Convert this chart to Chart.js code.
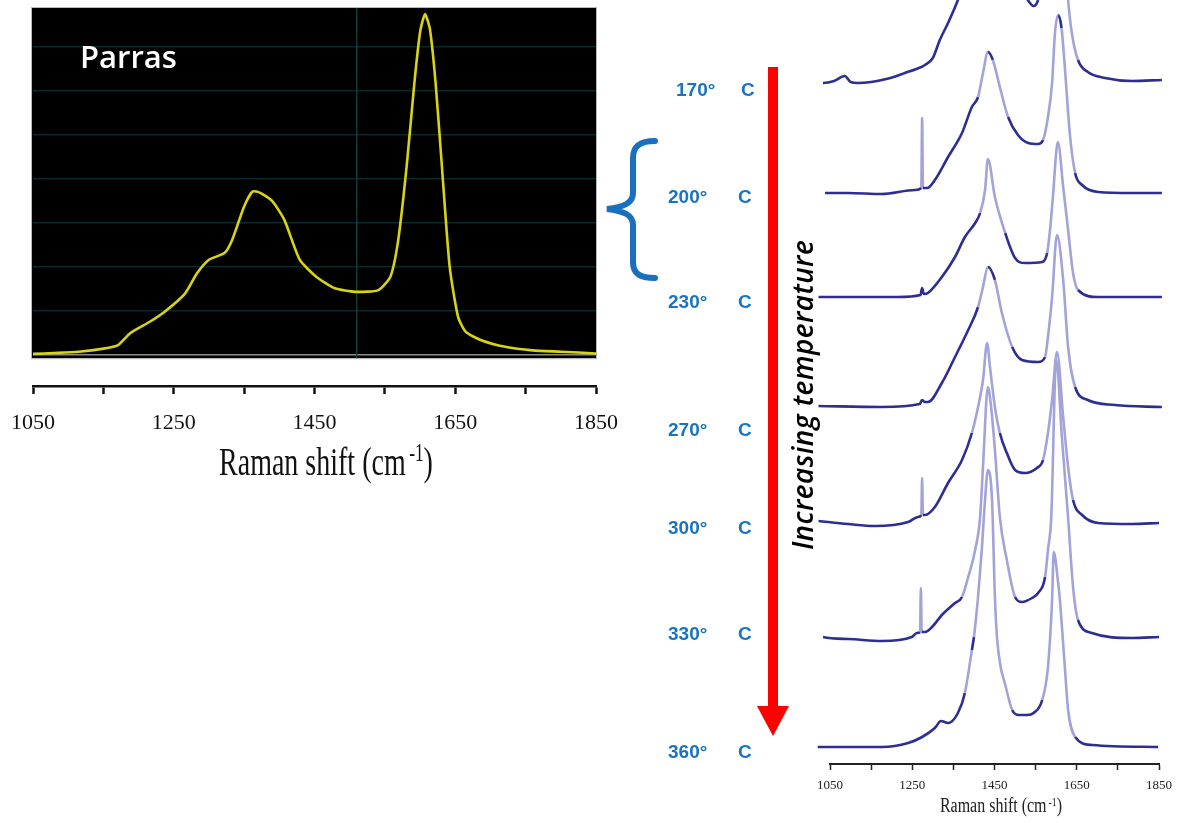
<!DOCTYPE html>
<html><head><meta charset="utf-8">
<script src="https://cdn.jsdelivr.net/npm/chart.js@4.4.0/dist/chart.umd.min.js"></script>
<style>
html,body{margin:0;padding:0;background:#fff;width:1177px;height:823px;overflow:hidden;position:relative}
#leftWrap{position:absolute;left:0;top:0;width:620px;height:484px}
#rightWrap{position:absolute;left:790px;top:0;width:387px;height:823px}
.parras{position:absolute;left:80px;top:36px;color:#fff;font:600 31px "Open Sans",sans-serif;line-height:40px}
.temp{position:absolute;color:#1a73c0;font:bold 19px "Liberation Sans",Arial,sans-serif;line-height:22px;white-space:nowrap;height:22px;width:100px}
.temp .c{position:absolute;top:0}
.vt{position:absolute;left:802px;top:395px;transform:translate(-50%,-50%) rotate(-90deg);font:italic 600 28px "Open Sans",sans-serif;letter-spacing:0.4px;color:#000;white-space:nowrap;line-height:32px}
.axt{position:absolute;font-family:"Liberation Serif",serif;color:#111;white-space:nowrap}
.axt sup{font-size:62%;vertical-align:0;position:relative;top:-0.55em;margin-left:0.2em}
#lt{left:326px;top:465px;font-size:28px;line-height:28px;transform:translate(-50%,-50%) scaleY(1.42)}
#rt{left:1001px;top:807px;font-size:16px;line-height:16px;transform:translate(-50%,-50%) scaleY(1.3);color:#222}
svg{position:absolute;left:0;top:0}
</style></head>
<body>
<div id="leftWrap"><canvas id="leftChart"></canvas></div>
<div id="rightWrap"><canvas id="rightChart"></canvas></div>
<div class="parras">Parras</div>
<div class="axt" id="lt">Raman shift (cm<sup>-1</sup>)</div>
<div class="axt" id="rt">Raman shift (cm<sup>-1</sup>)</div>
<svg width="1177" height="823">
  <path d="M655 141 C640 141 633 146 633 158 L633 193 C633 203 624 207 607 209 C624 211 633 215 633 225 L633 262 C633 274 640 278 655 278" fill="none" stroke="#1a6fbf" stroke-width="6" stroke-linecap="round"/>
  <rect x="768" y="67" width="10" height="642" fill="#ff0000"/>
  <polygon points="757,706 789,706 773,736" fill="#ff0000"/>
</svg>
<div class="vt">Increasing temperature</div>
<div id="labels"></div>
<script>
// ---------- Left panel (Parras) ----------
const LEFT_X_TICKS = [1050,1150,1250,1350,1450,1550,1650,1750,1850];
const LEFT_X_LABELS = [1050,1250,1450,1650,1850];
const LEFT_Y_GRID = [0,1,2,3,4,5,6,7];
const PARRAS_WN = [1050,1080,1115,1150,1171,1188,1216,1238,1266,1283,1300,1322,1333,1350,1362,1373,1390,1407,1429,1452,1479,1508,1541,1558,1569,1581,1592,1600,1607,1614,1622,1631,1642,1654,1665,1687,1721,1760,1800,1850];
const PARRAS_I  = [0.03,0.05,0.08,0.15,0.23,0.5,0.76,1.0,1.4,1.86,2.17,2.32,2.62,3.38,3.72,3.69,3.5,3.08,2.17,1.79,1.52,1.44,1.48,1.79,2.62,4.3,6.2,7.34,7.75,7.41,6.2,4.3,2.02,0.87,0.53,0.34,0.19,0.11,0.08,0.04];
const LEFT_MARKER_WN = 1510;

// ---------- Right panel (temperature series) ----------
const TEMPS = ['170','200','230','270','300','330','360'];
const OFFSETS = [681,571,467,357,241,126,17];
const RIGHT_X_TICKS = [1050,1150,1250,1350,1450,1550,1650,1750,1850];
const RIGHT_X_LABELS = [1050,1250,1450,1650,1850];
const T170 = [[1022,2],[1033,0],[1060,2],[1086,7],[1100,1],[1118,0],[1150,1],[1176,3],[1205,6],[1232,10],[1260,14],[1281,18],[1300,25],[1317,43],[1337,60],[1361,83],[1400,130],[1434,175],[1470,140],[1510,100],[1531,83],[1545,77],[1556,83],[1580,130],[1605,230],[1629,83],[1638,50],[1653,23],[1677,11],[1719,5],[1784,2],[1857,3]];
const T200 = [[1022,6],[1031,3],[1038,0],[1094,0],[1176,-1],[1257,3],[1272,5],[1274,75],[1276,5],[1286,5],[1305,13],[1337,36],[1371,60],[1395,86],[1410,96],[1422,120],[1434,141],[1446,133],[1463,106],[1483,76],[1507,58],[1532,50],[1556,49],[1568,53],[1580,76],[1590,110],[1597,160],[1605,178],[1613,165],[1621,126],[1633,60],[1646,20],[1663,8],[1702,1],[1784,0],[1857,0]];
const T230 = [[1022,0],[1135,0],[1215,0],[1270,2],[1274,9],[1278,3],[1288,4],[1322,20],[1354,40],[1378,60],[1403,74],[1415,84],[1427,107],[1434,138],[1451,100],[1476,64],[1500,39],[1524,34],[1566,35],[1578,44],[1585,67],[1592,100],[1604,155],[1617,110],[1629,67],[1641,24],[1653,7],[1702,0],[1857,0]];
const T270 = [[1022,1],[1176,0],[1268,3],[1274,7],[1280,5],[1288,5],[1322,24],[1354,50],[1386,77],[1410,100],[1422,120],[1434,140],[1451,127],[1468,94],[1493,60],[1517,47],[1556,45],[1573,50],[1580,70],[1590,110],[1602,172],[1617,127],[1629,60],[1646,20],[1677,7],[1743,2],[1857,0]];
const T300 = [[1022,2],[1094,-1],[1159,-3],[1240,1],[1264,6],[1272,8],[1274,45],[1276,8],[1281,8],[1305,16],[1337,40],[1371,63],[1395,90],[1410,116],[1422,143],[1432,180],[1439,156],[1451,116],[1463,90],[1480,70],[1500,53],[1524,50],[1553,55],[1568,63],[1580,90],[1590,123],[1602,171],[1617,106],[1629,56],[1641,23],[1663,8],[1702,0],[1784,-1],[1850,0]];
const T330 = [[1022,5],[1033,1],[1094,-1],[1176,-3],[1249,1],[1261,5],[1269,6],[1271,50],[1273,6],[1281,6],[1298,11],[1322,23],[1354,35],[1371,41],[1386,61],[1403,88],[1415,121],[1422,171],[1434,251],[1442,230],[1451,188],[1463,121],[1480,78],[1500,41],[1517,36],[1541,40],[1556,45],[1573,61],[1580,88],[1588,121],[1600,278],[1614,200],[1629,120],[1641,51],[1653,18],[1687,5],[1784,0],[1850,1]];
const T360 = [[1020,0],[1176,0],[1240,4],[1274,10],[1305,19],[1320,26],[1337,24],[1361,34],[1378,54],[1395,97],[1400,110],[1410,150],[1419,197],[1427,247],[1434,277],[1444,247],[1451,150],[1456,110],[1465,80],[1475,64],[1493,37],[1510,32],[1530,32],[1545,34],[1566,47],[1580,80],[1590,147],[1594,195],[1604,167],[1609,147],[1621,80],[1629,37],[1646,10],[1687,2],[1848,0]];
const TRACES = [T170,T200,T230,T270,T300,T330,T360];

const LABEL_POS = [[676,79,65],[668,186,70],[668,291,70],[668,419,70],[668,517,70],[668,623,70],[668,741,70]];
const lab = document.getElementById('labels');
TEMPS.forEach((t,i)=>{
  const d=document.createElement('div'); d.className='temp';
  d.style.left=LABEL_POS[i][0]+'px'; d.style.top=LABEL_POS[i][1]+'px';
  d.innerHTML='<span>'+t+'°</span><span class="c" style="left:'+LABEL_POS[i][2]+'px">C</span>';
  lab.appendChild(d);
});

const bgPlugin = {
  id:'bg',
  beforeDraw(chart){
    const {ctx, chartArea:a, scales:{x,y}} = chart;
    const bottom = y.getPixelForValue(-0.07);
    ctx.save(); ctx.fillStyle='#000';
    ctx.fillRect(a.left-1, a.top, a.right-a.left+1, bottom-a.top);
    ctx.strokeStyle='#b8b8b8'; ctx.lineWidth=1;
    ctx.strokeRect(a.left-1.5, a.top-0.5, a.right-a.left+2, bottom-a.top+1);
    ctx.restore();
  },
  beforeDatasetsDraw(chart){
    const {ctx, chartArea:a, scales:{x,y}} = chart;
    const px = x.getPixelForValue(LEFT_MARKER_WN);
    ctx.save(); ctx.strokeStyle='#123c3c'; ctx.lineWidth=1.5;
    ctx.beginPath(); ctx.moveTo(px,a.top); ctx.lineTo(px,y.getPixelForValue(-0.07)); ctx.stroke();
    ctx.restore();
  }
};

new Chart(document.getElementById('leftChart'), {
  type:'line',
  data:{datasets:[{data:PARRAS_WN.map((w,i)=>({x:w,y:PARRAS_I[i]})), borderColor:'#d8d414', borderWidth:2.6, pointRadius:0, tension:0.2}]},
  options:{
    responsive:true, maintainAspectRatio:false, animation:false,
    layout:{padding:{left:33,right:24,top:8,bottom:0}},
    plugins:{legend:{display:false},tooltip:{enabled:false}},
    scales:{
      x:{type:'linear',min:1050,max:1850,
        afterBuildTicks:s=>{s.ticks=LEFT_X_TICKS.map(v=>({value:v}));},
        afterFit:s=>{s.paddingLeft=0;s.paddingRight=0;s.height=98;},
        grid:{drawOnChartArea:false,drawTicks:true,tickLength:8,tickColor:'#111',tickWidth:2.5},
        border:{display:true,color:'#111',width:2.5},
        ticks:{autoSkip:false,maxRotation:0,padding:16,color:'#111',font:{family:'"Liberation Serif", serif',size:22},
          callback:v=>LEFT_X_LABELS.includes(v)?String(v):''},
        title:{display:false,text:'Raman shift (cm-1)'}
      },
      y:{type:'linear',min:-0.7,max:7.89,
        afterBuildTicks:s=>{s.ticks=LEFT_Y_GRID.map(v=>({value:v}));},
        afterFit:s=>{s.width=0;},
        ticks:{display:false},border:{display:false},
        grid:{drawTicks:false,lineWidth:1.5,color:c=>c.tick&&c.tick.value===0?'#8a8a8a':'#0a2a2a'}
      }
    }
  },
  plugins:[bgPlugin]
});

const DARK='#2d2d93', LIGHT='#a3a3d9';
new Chart(document.getElementById('rightChart'), {
  type:'line',
  data:{datasets:TRACES.map((tr,i)=>({
    label:TEMPS[i]+'° C',
    data:tr.map(p=>({x:p[0],y:p[1]+OFFSETS[i]})),
    borderColor:DARK, borderWidth:2.6, pointRadius:0, cubicInterpolationMode:'monotone', clip:false,
    segment:{borderColor:c=>{const dx=Math.abs(c.p1.x-c.p0.x),dy=Math.abs(c.p1.y-c.p0.y);return (dy>3.2*dx&&dy>14)?LIGHT:DARK;}}
  }))},
  options:{
    responsive:true, maintainAspectRatio:false, animation:false,
    layout:{padding:{left:40,right:18,top:0,bottom:0}},
    plugins:{legend:{display:false},tooltip:{enabled:false}},
    scales:{
      x:{type:'linear',min:1050,max:1850,
        afterBuildTicks:s=>{s.ticks=RIGHT_X_TICKS.map(v=>({value:v}));},
        afterFit:s=>{s.paddingLeft=0;s.paddingRight=0;s.height=59;},
        grid:{drawOnChartArea:false,drawTicks:true,tickLength:6,tickColor:'#222',tickWidth:1.5},
        border:{display:true,color:'#222',width:2},
        ticks:{autoSkip:false,maxRotation:0,padding:8,color:'#222',font:{family:'"Liberation Serif", serif',size:13},
          callback:v=>RIGHT_X_LABELS.includes(v)?String(v):''},
        title:{display:false,text:'Raman shift (cm-1)'}
      },
      y:{type:'linear',display:false,min:0,max:764}
    }
  }
});
</script>
</body></html>
